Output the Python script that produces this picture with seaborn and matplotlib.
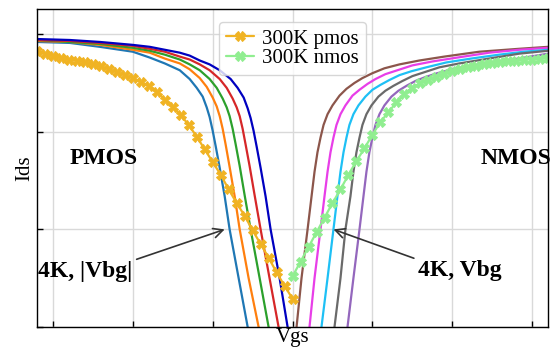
"""
Ids-Vgs transfer curves: 4K back-gate sweep vs 300K reference,
PMOS on the left, NMOS on the right (log Ids axis, no tick labels).
"""

import numpy as np
import pandas as pd
import matplotlib
matplotlib.use("Agg")
import matplotlib.pyplot as plt
import matplotlib.ticker as mticker
import seaborn as sns

# ── Data (Vgs in V, log10 of Ids) ─────────────────────────────────────────────
# 4K PMOS, one curve per |Vbg| step
P1_VGS = [-1.6, -1.394, -1.206, -1.0, -0.894, -0.8, -0.706, -0.644, -0.6, -0.5625,
          -0.5375, -0.519, -0.5, -0.481, -0.456, -0.425, -0.394, -0.3375, -0.281, -0.25]
P1_LOG = [-4.08, -4.09, -4.13, -4.18, -4.24, -4.30, -4.37, -4.46, -4.55, -4.64,
          -4.75, -4.85, -4.99, -5.15, -5.37, -5.66, -6.00, -6.50, -7.00, -7.27]

P2_VGS = [-1.6, -1.394, -1.206, -1.0, -0.894, -0.8, -0.706, -0.644, -0.581, -0.5375,
          -0.5, -0.475, -0.456, -0.4375, -0.419, -0.394, -0.3625, -0.331, -0.275,
          -0.2125, -0.181]
P2_LOG = [-4.07, -4.08, -4.11, -4.16, -4.19, -4.25, -4.30, -4.36, -4.45, -4.54,
          -4.65, -4.74, -4.84, -4.97, -5.13, -5.36, -5.66, -6.00, -6.50,
          -7.00, -7.27]

P3_VGS = [-1.6, -1.394, -1.206, -1.0, -0.894, -0.8, -0.706, -0.644, -0.581, -0.519,
          -0.475, -0.4375, -0.4125, -0.394, -0.375, -0.356, -0.331, -0.3, -0.2625,
          -0.206, -0.15, -0.119]
P3_LOG = [-4.06, -4.08, -4.10, -4.14, -4.17, -4.21, -4.26, -4.31, -4.37, -4.46,
          -4.55, -4.66, -4.75, -4.84, -4.97, -5.13, -5.35, -5.65, -6.00,
          -6.50, -7.00, -7.27]

P4_VGS = [-1.6, -1.394, -1.206, -1.0, -0.894, -0.8, -0.706, -0.644, -0.581, -0.519,
          -0.456, -0.4125, -0.375, -0.35, -0.331, -0.3125, -0.294, -0.269, -0.2375,
          -0.2, -0.144, -0.0875, -0.056]
P4_LOG = [-4.06, -4.07, -4.09, -4.12, -4.15, -4.18, -4.23, -4.26, -4.31, -4.37,
          -4.46, -4.55, -4.66, -4.75, -4.84, -4.97, -5.13, -5.35, -5.65,
          -6.00, -6.50, -7.00, -7.27]

P5_VGS = [-1.6, -1.394, -1.206, -1.0, -0.894, -0.8, -0.706, -0.644, -0.581, -0.519,
          -0.456, -0.3875, -0.344, -0.306, -0.281, -0.2625, -0.244, -0.225, -0.2,
          -0.169, -0.1375, -0.081, -0.031, 0.0]
P5_LOG = [-4.05, -4.06, -4.08, -4.11, -4.13, -4.16, -4.19, -4.22, -4.27, -4.31,
          -4.37, -4.46, -4.55, -4.65, -4.76, -4.86, -4.99, -5.15, -5.37,
          -5.66, -6.00, -6.50, -7.00, -7.27]

# 4K NMOS
N1_VGS = [-0.006, 0.025, 0.056, 0.094, 0.119, 0.1375, 0.156, 0.175, 0.194, 0.219,
          0.25, 0.294, 0.3375, 0.3875, 0.4375, 0.5, 0.575, 0.669, 0.794, 0.95,
          1.169, 1.419, 1.6]
N1_LOG = [-7.27, -7.00, -6.50, -6.00, -5.66, -5.41, -5.21, -5.06, -4.93, -4.82,
          -4.73, -4.63, -4.56, -4.50, -4.45, -4.40, -4.35, -4.31, -4.27, -4.23,
          -4.18, -4.15, -4.13]

N2_VGS = [0.075, 0.106, 0.1375, 0.175, 0.2, 0.219, 0.2375, 0.256, 0.275, 0.3,
          0.331, 0.375, 0.419, 0.469, 0.519, 0.581, 0.656, 0.75, 0.875, 1.031,
          1.231, 1.419, 1.6]
N2_LOG = [-7.27, -7.00, -6.50, -6.00, -5.66, -5.41, -5.21, -5.06, -4.93, -4.82,
          -4.73, -4.63, -4.57, -4.51, -4.46, -4.41, -4.37, -4.32, -4.28, -4.24,
          -4.19, -4.16, -4.14]

N3_VGS = [0.156, 0.181, 0.219, 0.256, 0.281, 0.3, 0.319, 0.3375, 0.356, 0.381,
          0.4125, 0.456, 0.5, 0.55, 0.606, 0.669, 0.744, 0.8375, 0.9625, 1.119,
          1.294, 1.45, 1.6]
N3_LOG = [-7.27, -7.00, -6.50, -6.00, -5.66, -5.41, -5.21, -5.06, -4.93, -4.82,
          -4.73, -4.64, -4.57, -4.52, -4.47, -4.42, -4.38, -4.34, -4.29, -4.25,
          -4.21, -4.18, -4.16]

N4_VGS = [0.2375, 0.2625, 0.3, 0.331, 0.3625, 0.381, 0.4, 0.419, 0.4375, 0.4625,
          0.494, 0.5375, 0.581, 0.631, 0.6875, 0.75, 0.825, 0.919, 1.044, 1.231,
          1.419, 1.6]
N4_LOG = [-7.27, -7.00, -6.50, -6.00, -5.66, -5.41, -5.21, -5.06, -4.93, -4.82,
          -4.73, -4.64, -4.58, -4.53, -4.48, -4.43, -4.39, -4.34, -4.30, -4.25,
          -4.20, -4.17]

N5_VGS = [0.319, 0.344, 0.381, 0.419, 0.444, 0.4625, 0.481, 0.5, 0.519, 0.544,
          0.575, 0.619, 0.6625, 0.7125, 0.769, 0.831, 0.906, 1.0, 1.125, 1.294,
          1.45, 1.6]
N5_LOG = [-7.27, -7.00, -6.50, -6.00, -5.66, -5.41, -5.21, -5.06, -4.93, -4.82,
          -4.73, -4.64, -4.58, -4.53, -4.48, -4.44, -4.40, -4.36, -4.32, -4.28,
          -4.24, -4.20]

# 300K reference sweeps (50 mV steps)
PMOS300_VGS = [-1.6, -1.55, -1.5, -1.45, -1.4, -1.35, -1.3, -1.25, -1.2, -1.15, -1.1,
               -1.05, -1.0, -0.95, -0.9, -0.85, -0.8, -0.75, -0.7, -0.65, -0.6,
               -0.55, -0.5, -0.45, -0.4, -0.35, -0.3, -0.25, -0.2, -0.15, -0.1,
               -0.05, 0.0]
PMOS300_LOG = [-4.17, -4.20, -4.22, -4.24, -4.26, -4.27, -4.29, -4.31, -4.33, -4.36,
               -4.39, -4.42, -4.45, -4.49, -4.53, -4.59, -4.67, -4.75, -4.83, -4.93,
               -5.05, -5.18, -5.31, -5.44, -5.59, -5.73, -5.86, -6.01, -6.15, -6.29,
               -6.44, -6.58, -6.71]

NMOS300_VGS = [0.0, 0.05, 0.1, 0.15, 0.2, 0.25, 0.3, 0.35, 0.4, 0.45, 0.5, 0.55, 0.6,
               0.65, 0.7, 0.75, 0.8, 0.85, 0.9, 0.95, 1.0, 1.05, 1.1, 1.15, 1.2, 1.25,
               1.3, 1.35, 1.4, 1.45, 1.5, 1.55, 1.6]
NMOS300_LOG = [-6.48, -6.33, -6.18, -6.03, -5.88, -5.73, -5.59, -5.44, -5.30, -5.17,
               -5.03, -4.90, -4.80, -4.70, -4.61, -4.55, -4.50, -4.47, -4.44, -4.41,
               -4.38, -4.36, -4.34, -4.33, -4.31, -4.30, -4.29, -4.28, -4.27, -4.26,
               -4.26, -4.25, -4.24]

PMOS_4K = [(P1_VGS, P1_LOG), (P2_VGS, P2_LOG), (P3_VGS, P3_LOG),
           (P4_VGS, P4_LOG), (P5_VGS, P5_LOG)]
NMOS_4K = [(N1_VGS, N1_LOG), (N2_VGS, N2_LOG), (N3_VGS, N3_LOG),
           (N4_VGS, N4_LOG), (N5_VGS, N5_LOG)]

# ── Style ─────────────────────────────────────────────────────────────────────
PMOS_COLORS = ["#1f77b4", "#ff7f0e", "#2ca02c", "#d62728", "#0000c0"]
NMOS_COLORS = ["#8c564b", "#e83ee8", "#1ec0f5", "#6a6a6a", "#9467bd"]
C_P300 = "#f0b323"
C_N300 = "#90ee90"

sns.set_style("whitegrid")
plt.rcParams["font.family"] = ["Liberation Serif", "DejaVu Serif"]
plt.rcParams.update({
    "text.color": "black",
    "axes.labelcolor": "black",
    "axes.edgecolor": "black",
    "axes.linewidth": 1.0,
    "grid.color": "#d9d9d9",
    "grid.linewidth": 1.0,
    "xtick.direction": "in",
    "ytick.direction": "in",
    "xtick.bottom": True,
    "ytick.left": True,
})


def curve_df(vgs, log_ids):
    return pd.DataFrame({"Vgs": vgs, "Ids": 10.0 ** np.asarray(log_ids)})


fig = plt.figure(figsize=(5.52, 3.52), dpi=100)
ax = fig.add_axes([0.067, 0.071, 0.926, 0.903])

for (vgs, lg), c in zip(PMOS_4K + NMOS_4K, PMOS_COLORS + NMOS_COLORS):
    sns.lineplot(data=curve_df(vgs, lg), x="Vgs", y="Ids", ax=ax, color=c,
                 lw=1.6, sort=False, estimator=None, legend=False)

sns.lineplot(data=curve_df(PMOS300_VGS, PMOS300_LOG), x="Vgs", y="Ids", ax=ax,
             color=C_P300, lw=1.6, marker="X", markersize=7,
             markeredgecolor=C_P300, sort=False, estimator=None, label="300K pmos")
sns.lineplot(data=curve_df(NMOS300_VGS, NMOS300_LOG), x="Vgs", y="Ids", ax=ax,
             color=C_N300, lw=1.6, marker="X", markersize=7,
             markeredgecolor=C_N300, sort=False, estimator=None, label="300K nmos")

ax.set_yscale("log")
ax.set_xlim(-1.6, 1.6)
ax.set_ylim(1e-7, 10 ** -3.744)
ax.set_xticks([-1.5, -1.0, -0.5, 0.0, 0.5, 1.0, 1.5])
ax.set_yticks([1e-7, 1e-6, 1e-5, 1e-4])
ax.yaxis.set_minor_locator(mticker.NullLocator())
ax.tick_params(axis="both", which="major", length=4, width=1, color="black",
               labelbottom=False, labelleft=False)
ax.set_xlabel("Vgs", fontsize=15, labelpad=1)
ax.set_ylabel("Ids", fontsize=15, labelpad=2)

# ── Annotations ───────────────────────────────────────────────────────────────
bold = dict(fontsize=17, fontweight="bold", color="black")
ax.text(-1.394, 10 ** -5.27, "PMOS", ha="left", va="center", **bold)
ax.text(1.175, 10 ** -5.27, "NMOS", ha="left", va="center", **bold)

ax.annotate("4K, |Vbg|", xy=(-0.425, 1e-6), xytext=(-1.3, 10 ** -6.43),
            ha="center", va="center", **bold,
            arrowprops=dict(arrowstyle="->", color="#333333", lw=1.2,
                            relpos=(1.0, 1.0), shrinkA=1, shrinkB=0))
ax.annotate("4K, Vbg", xy=(0.256, 1e-6), xytext=(1.05, 10 ** -6.42),
            ha="center", va="center", **bold,
            arrowprops=dict(arrowstyle="->", color="#333333", lw=1.2,
                            relpos=(0.0, 1.0), shrinkA=1, shrinkB=0))

ax.legend(loc="upper center", fontsize=15, labelspacing=0.0, handlelength=1.3,
          handletextpad=0.4, borderpad=0.35, borderaxespad=0.6)

fig.savefig("out.png", dpi=100)
